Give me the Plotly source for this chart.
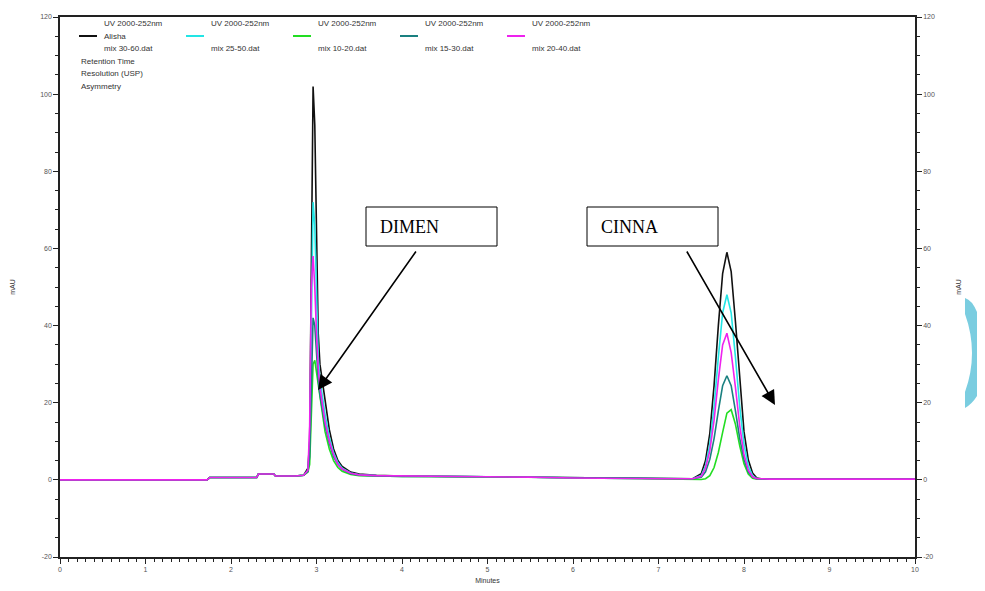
import plotly.graph_objects as go

# ---- data ----
time_min = [0, 0.5, 1.0, 1.5, 1.72, 1.75, 2.0, 2.3, 2.32, 2.5, 2.52, 2.75,
            2.85, 2.9, 2.92, 2.94, 2.96, 2.98, 3.0, 3.02, 3.04, 3.06, 3.08, 3.1,
            3.15, 3.2, 3.25, 3.3, 3.4, 3.5, 3.7, 4.0,
            5.0, 5.5, 6.0, 7.0, 7.4,
            7.5, 7.55, 7.6, 7.65, 7.7, 7.75, 7.8, 7.85, 7.9, 7.95, 8.0, 8.05, 8.1, 8.15,
            8.2, 8.3, 8.5, 9.0, 10.0]

base_pre = [0, 0, 0, 0, 0, 0.6, 0.6, 0.6, 1.5, 1.5, 1.0, 1.0]
base_mid = [0.8, 0.7, 0.5, 0.3, 0.3]
base_post = [0.3, 0.2, 0.2, 0.2, 0.2]

dimen_alisha = [1.2, 3, 10, 55, 102, 92, 60, 38, 30, 27, 24, 20, 13, 8, 5, 3.5, 2, 1.5, 1.2, 1.0]
dimen_mix2550 = [1.2, 2.5, 8, 40, 72, 66, 45, 32, 26, 23, 20, 17, 11, 7, 4.5, 3, 1.8, 1.3, 1.1, 1.0]
dimen_mix1020 = [1.2, 2, 4, 18, 30, 31, 28, 24, 21, 18, 15, 12.5, 8, 5, 3.2, 2.2, 1.4, 1.1, 1.0, 0.9]
dimen_mix1530 = [1.2, 2.2, 6, 28, 42, 40, 32, 26, 22, 19.5, 17, 14, 9.5, 6, 4, 2.7, 1.6, 1.2, 1.0, 0.9]
dimen_mix2040 = [1.2, 2.5, 14, 50, 58, 50, 38, 29, 24, 21, 18, 15, 10, 6.5, 4, 2.8, 1.7, 1.3, 1.1, 1.0]

cinna_alisha = [1.6, 5.0, 12.0, 24.5, 40, 53.5, 59, 54, 41, 25.5, 12.5, 5.2, 1.8, 0.5]
cinna_mix2550 = [1.1, 3.6, 9.2, 19, 31.8, 43.3, 48, 43.3, 31.8, 19, 9.2, 3.6, 1.1, 0.3]
cinna_mix1020 = [0.1, 0.3, 1.1, 3.2, 7.1, 12.3, 17.3, 18.2, 14.4, 8.8, 4.2, 1.5, 0.4, 0.2]
cinna_mix1530 = [0.7, 2.1, 5.3, 10.7, 17.9, 24.4, 27, 24.4, 17.9, 10.7, 5.3, 2.1, 0.7, 0.3]
cinna_mix2040 = [0.9, 3, 7.5, 15.5, 26, 35, 38, 33, 24, 14, 6.5, 2.5, 0.8, 0.3]

series_names = ["Alisha", "mix 25-50.dat", "mix 10-20.dat", "mix 15-30.dat", "mix 20-40.dat"]
legend_headers = ["UV 2000-252nm"] * 5
legend_files = ["mix 30-60.dat", "mix 25-50.dat", "mix 10-20.dat", "mix 15-30.dat", "mix 20-40.dat"]
legend_names = ["Alisha", "", "", "", ""]
colors = ["#111111", "#22e5e5", "#22dd22", "#1a8080", "#ee22ee"]
dimen = [dimen_alisha, dimen_mix2550, dimen_mix1020, dimen_mix1530, dimen_mix2040]
cinna = [cinna_alisha, cinna_mix2550, cinna_mix1020, cinna_mix1530, cinna_mix2040]

x_ticks = list(range(0, 11))
y_ticks = list(range(-20, 121, 20))

# ---- figure (page has an 8px body margin) ----
OFF = 8
W, H = 985 - OFF, 591 - OFF
L, R, T, B = 60 - OFF, 70, 17 - OFF, 34
pw, ph = W - L - R, H - T - B


def px(x):  # page pixel -> paper
    return (x - OFF - L) / pw


def py(y):
    return (H - B - (y - OFF)) / ph


fig = go.Figure()
for name, col, d, c in zip(series_names, colors, dimen, cinna):
    vals = base_pre + d + base_mid + c + base_post
    fig.add_trace(go.Scatter(x=time_min, y=vals, mode="lines", name=name,
                             line=dict(color=col, width=1.6), showlegend=False))

# dummy trace to carry the right axis
fig.add_trace(go.Scatter(x=[0], y=[0], yaxis="y2", mode="markers",
                         marker=dict(opacity=0), showlegend=False, hoverinfo="skip"))

tickfont = dict(family="Liberation Sans, Arial", size=7, color="#555")
titlefont = dict(family="Liberation Sans, Arial", size=7, color="#333")
axis_common = dict(showgrid=False, zeroline=False, showline=True, linecolor="#222",
                   linewidth=1.5, ticks="outside", ticklen=5, tickcolor="#222",
                   tickfont=tickfont, automargin=False)
fig.update_layout(
    width=W, height=H,
    margin=dict(l=L, r=R, t=T, b=B, autoexpand=False),
    paper_bgcolor="white", plot_bgcolor="white",
    xaxis=dict(range=[0, 10], tickvals=x_ticks, ticktext=[str(v) for v in x_ticks],
               mirror=True,
               minor=dict(dtick=0.1, ticks="outside", ticklen=3, tickcolor="#222"),
               title=dict(text="Minutes", font=titlefont, standoff=6), **axis_common),
    yaxis=dict(range=[-20, 120], tickvals=y_ticks, ticktext=[str(v) for v in y_ticks],
               minor=dict(dtick=5, ticks="outside", ticklen=3, tickcolor="#222"),
               title=dict(text="mAU", font=titlefont, standoff=24), **axis_common),
    yaxis2=dict(range=[-20, 120], tickvals=y_ticks, ticktext=[str(v) for v in y_ticks],
                overlaying="y", side="right",
                minor=dict(dtick=5, ticks="outside", ticklen=3, tickcolor="#222"),
                title=dict(text="mAU", font=titlefont, standoff=22), **axis_common),
)

annotations = []
shapes = []
lfont = dict(family="Liberation Sans, Arial", size=8, color="#333")
for i in range(5):
    lx = 79 + 107 * i
    tx = 102 + 107 * i
    shapes.append(dict(type="line", xref="paper", yref="paper",
                       x0=px(lx), x1=px(lx + 18), y0=py(36), y1=py(36),
                       line=dict(color=colors[i], width=2)))
    for txt, yy in ((legend_headers[i], 24), (legend_names[i], 36), (legend_files[i], 48)):
        if txt:
            annotations.append(dict(text=txt, xref="paper", yref="paper", x=px(tx), y=py(yy),
                                    xanchor="left", yanchor="middle", showarrow=False, font=lfont))
for txt, yy in (("Retention Time", 61), ("Resolution (USP)", 73), ("Asymmetry", 86)):
    annotations.append(dict(text=txt, xref="paper", yref="paper", x=px(79), y=py(yy),
                            xanchor="left", yanchor="middle", showarrow=False, font=lfont))

# labelled boxes
box_font = dict(family="Liberation Serif, Times New Roman", size=18, color="black")
for label, x0 in (("DIMEN", 366), ("CINNA", 587)):
    shapes.append(dict(type="rect", xref="paper", yref="paper",
                       x0=px(x0), x1=px(x0 + 131), y0=py(246), y1=py(207),
                       line=dict(color="black", width=1), fillcolor="white"))
    annotations.append(dict(text=label, xref="paper", yref="paper", x=px(x0 + 12), y=py(226.5),
                            xanchor="left", yanchor="middle", showarrow=False, font=box_font))

# arrows
for (hx, hy, tx, ty) in ((318, 390, 417, 250), (775, 405, 686, 250)):
    annotations.append(dict(text="", xref="paper", yref="paper", x=px(hx), y=py(hy),
                            ax=tx - hx, ay=ty - hy, showarrow=True, arrowhead=2,
                            arrowsize=1.8, arrowwidth=1.6, arrowcolor="black"))

# decorative watermark swoosh at right edge
sw = (f"M {px(965)},{py(298)} Q {px(972)},{py(300)} {px(977)},{py(312)} "
      f"L {px(977)},{py(396)} Q {px(972)},{py(404)} {px(965)},{py(408)} "
      f"L {px(965)},{py(392)} Q {px(979)},{py(353)} {px(965)},{py(314)} Z")
shapes.append(dict(type="path", xref="paper", yref="paper", path=sw,
                   fillcolor="#7acde0", line=dict(width=0), layer="above"))

fig.update_layout(annotations=annotations, shapes=shapes)
fig.write_html("out.html")
